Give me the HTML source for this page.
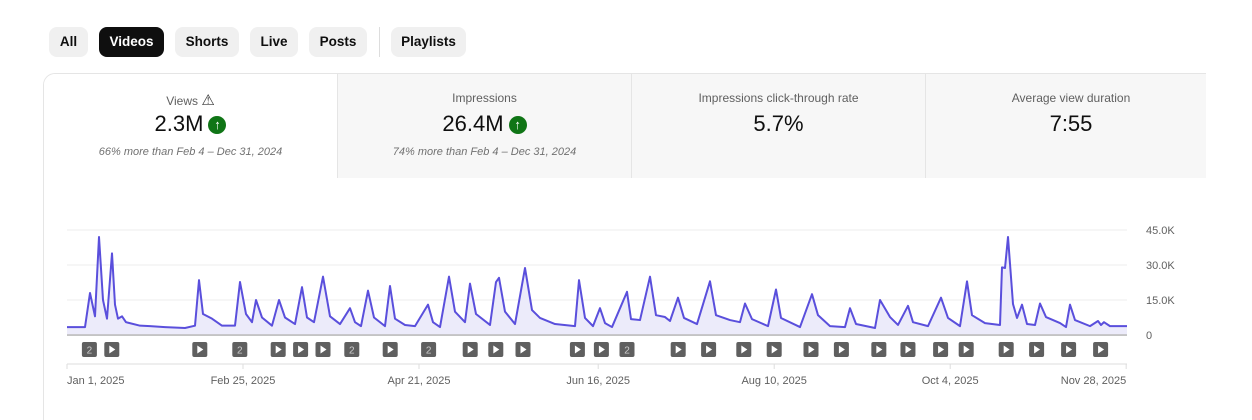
<!DOCTYPE html>
<html style="width:1252px;height:420px;overflow:hidden"><head><meta charset="utf-8">
<style>
body{margin:0;width:1252px;height:420px;background:#fff;font-family:"Liberation Sans",sans-serif;position:relative;overflow:hidden}
.pill{position:absolute;top:27px;height:30px;border-radius:8px;background:#f0f0f0;color:#0f0f0f;font-size:13.5px;font-weight:bold;line-height:30px;text-align:center}
.pill.on{background:#0f0f0f;color:#fff}
#card{position:absolute;left:43px;top:73px;width:1163px;height:347px;border:1px solid #e5e5e5;border-radius:12px 0 0 0;border-right:none;border-bottom:none;overflow:hidden;box-sizing:border-box}
.tab{position:absolute;top:0;height:104px;background:#f7f7f7;border-left:1px solid #e5e5e5;text-align:center}
.tab .t{position:absolute;top:17px;left:0;right:0;font-size:12px;color:#606060}
.tab .v{position:absolute;top:37px;left:0;right:0;font-size:22px;color:#0f0f0f}
.tab .s{position:absolute;top:72px;left:0;right:0;font-size:11px;font-style:italic;color:#717171}
.up{display:inline-block;width:18px;height:18px;border-radius:50%;background:#107516;color:#fff;font-size:13px;line-height:18px;vertical-align:2px;margin-left:5px;font-weight:bold}
</style></head><body>
<div class="pill" style="left:49px;width:39px">All</div>
<div class="pill on" style="left:99px;width:65px">Videos</div>
<div class="pill" style="left:175px;width:64px">Shorts</div>
<div class="pill" style="left:250px;width:48px">Live</div>
<div class="pill" style="left:309px;width:58px">Posts</div>
<div style="position:absolute;left:379px;top:27px;width:1px;height:30px;background:#ddd"></div>
<div class="pill" style="left:391px;width:75px">Playlists</div>
<div id="card">
 <div class="tab" style="left:0;width:293px;background:#fff;border-left:none"><div class="t">Views <span style="font-size:15px;color:#333">⚠</span></div><div class="v">2.3M<span class="up">↑</span></div><div class="s">66% more than Feb 4 – Dec 31, 2024</div></div>
 <div class="tab" style="left:293px;width:293px"><div class="t">Impressions</div><div class="v">26.4M<span class="up">↑</span></div><div class="s">74% more than Feb 4 – Dec 31, 2024</div></div>
 <div class="tab" style="left:587px;width:293px"><div class="t">Impressions click-through rate</div><div class="v">5.7%</div></div>
 <div class="tab" style="left:881px;width:290px"><div class="t">Average view duration</div><div class="v">7:55</div></div>
</div>
<svg id="chart" width="1252" height="420" style="position:absolute;left:0;top:0"></svg>
<script>
const xPx=[67,85,90,95,99,103,107,112,115,118,122,126,140,150,165,185,195,199,203,212,222,235,240,246,252,256,262,272,279,285,295,302,307,314,323,330,340,350,355,361,368,374,385,390,395,405,415,428,433,440,449,455,465,470,476,490,496,499,505,515,525,532,540,555,575,579,585,593,600,605,612,627,631,640,650,656,665,670,678,684,697,710,716,730,740,745,752,768,776,781,800,812,818,830,845,850,856,875,880,890,898,908,913,928,941,948,960,967,972,985,1000,1002,1005,1008,1013,1017,1022,1027,1035,1040,1046,1060,1066,1070,1075,1090,1098,1101,1104,1110,1127];
const days=xPx.map(p=>(p-67)/3.2);
const views=[3.4,3.4,18,8,42,15,7,35,13,7,8,5.5,4,3.8,3.4,3,4,23.5,9,7,4,4,22.7,9,5.5,15,7.5,4,15,7.5,4.7,20.5,7.5,5.5,25,8,4.7,11.5,5.5,3.8,19,7.5,3.8,21,7,4.3,3.8,13,5.5,3.4,25,10,5.5,22,9,4.3,22.7,24.5,10,4.7,28.7,10.7,7.3,4.7,3.8,23.5,7.3,3.8,11.5,5.1,3.4,18.5,6.8,6.4,25,8.5,7.7,6,16,7.3,4.7,23,8.5,6.4,5.5,13.5,6.8,3.8,19.5,7.3,3.4,17.5,8.5,3.8,3.4,11.5,4.7,3,15,7.7,4.3,12.5,5.5,3.8,16,7.3,3.8,23,8.5,5.1,4.3,29,28.7,42,13.3,7.3,13,4.7,4.3,13.5,7.7,5.1,3.4,13,6.4,3.8,6,4.3,5.5,3.8,3.8];
const yTicks=[0,15,30,45];
const yTickLabels=["0","15.0K","30.0K","45.0K"];
const xTickDays=[0,55,110,166,221,276,331];
const xTickLabels=["Jan 1, 2025","Feb 25, 2025","Apr 21, 2025","Jun 16, 2025","Aug 10, 2025","Oct 4, 2025","Nov 28, 2025"];
const markerDays=[7,14,41.5,54,66,73,80,89,101,113,126,134,142.5,159.5,167,175,191,200.5,211.5,221,232.5,242,253.7,262.8,273,281,293.5,303,313,323];
const markerTypes=["2","p","p","2","p","p","p","2","p","2","p","p","p","p","p","2","p","p","p","p","p","p","p","p","p","p","p","p","p","p"];
const X=d=>67+d*3.2, Y=v=>335-v*105/45;
const svg=document.getElementById('chart'),NS='http://www.w3.org/2000/svg';
function mk(t,a){const e=document.createElementNS(NS,t);for(const k in a)e.setAttribute(k,a[k]);svg.appendChild(e);return e;}
yTicks.forEach((v,i)=>{
 const l=mk('line',{x1:67,x2:1127,y1:Y(v),y2:Y(v),stroke:v?'#ececec':'#bbb','stroke-width':v?1:1.5});
 
 
 const t=mk('text',{x:1146,y:Y(v)+4,'font-size':11,fill:'#606060','font-family':'Liberation Sans'});
 t.textContent=yTickLabels[i];
 
 
});
let d='M'+X(days[0])+','+Y(0);
days.forEach((dd,i)=>d+='L'+X(dd)+','+Y(views[i]));
d+='L'+X(days[days.length-1])+','+Y(0)+'Z';
const area=mk('path',{d:d,fill:'#ecebfa'});


const line=mk('polyline',{points:days.map((dd,i)=>X(dd)+','+Y(views[i])).join(' '),fill:'none',stroke:'#5a4fdc','stroke-width':2,'stroke-linejoin':'round'});


const base=mk('line',{x1:67,x2:1127,y1:335,y2:335,stroke:'#bbb','stroke-width':1.5});


markerDays.forEach((md,i)=>{
 const cx=X(md);
 const r=mk('rect',{x:cx-7.5,y:342,width:15,height:15,rx:2,fill:'#5f5f5f'});
 
 
 if(markerTypes[i]==='2'){const t=mk('text',{x:cx,y:353.5,'font-size':10,fill:'#ccc','text-anchor':'middle','font-family':'Liberation Sans'});t.textContent='2';
  
  }
 else{const p=mk('path',{d:`M${cx-2.5},${345.5}L${cx+3.5},${349.5}L${cx-2.5},${353.5}Z`,fill:'#fff'});
  
  }
});
const ax=mk('line',{x1:67,x2:1127,y1:364,y2:364,stroke:'#ddd'});


xTickDays.forEach((td,i)=>{
 const tk=mk('line',{x1:X(td),x2:X(td),y1:364,y2:369,stroke:'#ddd'});
 
 
 const anchor=i===0?'start':(i===xTickDays.length-1?'end':'middle');
 const t=mk('text',{x:X(td),y:384,'font-size':11,fill:'#606060','text-anchor':anchor,'font-family':'Liberation Sans'});
 t.textContent=xTickLabels[i];
 
 
});
</script>
</body></html>
